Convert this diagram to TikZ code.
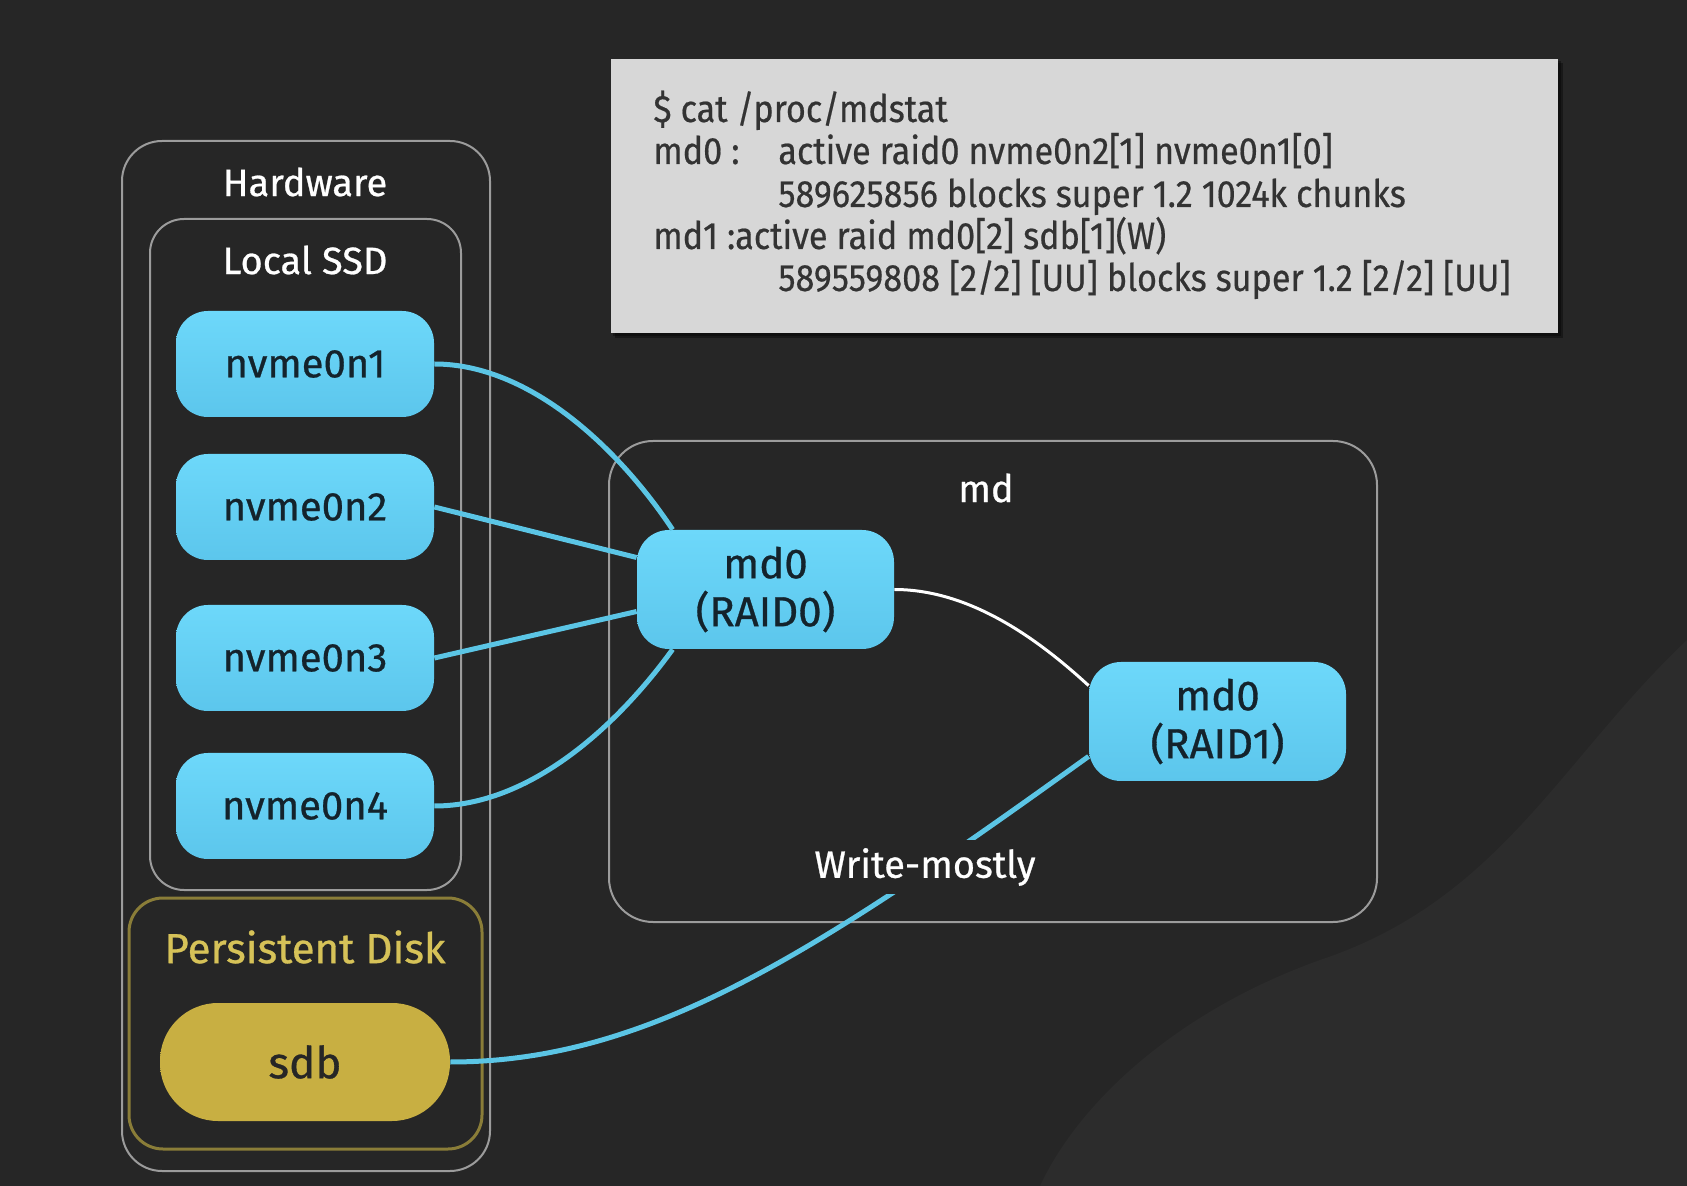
\documentclass[tikz,border=0pt]{standalone}
\usepackage{fontspec}
\setmainfont{Fira Sans}[FakeBold=0.7]
\newfontfamily\termfont{Fira Sans}[FakeStretch=0.9,FakeBold=0.5]
\usetikzlibrary{calc}
\definecolor{bg}{HTML}{262626}
\definecolor{bglight}{HTML}{2C2C2C}
\definecolor{frame}{HTML}{9C9C9C}
\definecolor{cyantop}{HTML}{6DD8FA}
\definecolor{cyanbot}{HTML}{5CC6EC}
\definecolor{cyanline}{HTML}{5BC5E5}
\definecolor{navytext}{HTML}{14232C}
\definecolor{olivefill}{HTML}{C8AF42}
\definecolor{oliveframe}{HTML}{8A7D38}
\definecolor{olivetext}{HTML}{D6C258}
\definecolor{termbg}{HTML}{D7D7D7}
\definecolor{termtext}{HTML}{333333}
\tikzset{
  container/.style={draw=frame, line width=1pt, rounded corners=#1, inner sep=0pt},
  container/.default=20pt,
  disk/.style={top color=cyantop, bottom color=cyanbot, draw=none, rounded corners=16pt,
    minimum width=129pt, minimum height=53pt, text=navytext,
    font=\fontsize{20pt}{24pt}\selectfont},
  raid/.style={disk, minimum width=128.5pt, minimum height=59.5pt, align=center,
    font=\fontsize{21pt}{24pt}\selectfont},
  title/.style={text=white, font=\fontsize{19pt}{22pt}\selectfont},
  link/.style={draw=cyanline, line width=2.5pt},
  wlink/.style={draw=white, line width=1.5pt},
  term/.style={anchor=base west, text=termtext, inner sep=0pt,
    font=\termfont\fontsize{19pt}{22pt}\selectfont},
}
\begin{document}
\begin{tikzpicture}[x=0.5pt,y=-0.5pt]
% background
\fill[bg] (0,0) rectangle (1687,1186);
\fill[bglight] (1687,640) .. controls (1560,760) and (1500,900) .. (1320,960)
  .. controls (1180,1010) and (1080,1100) .. (1040,1186) -- (1687,1186) -- cycle;
\useasboundingbox (0,0) rectangle (1687,1186);

% terminal box
\fill[black,opacity=0.35] (615,63) rectangle (1563,338);
\fill[black,opacity=0.35] (613,61) rectangle (1561,336);
\node (term) [fill=termbg, minimum width=473.5pt, minimum height=137pt, inner sep=0pt] at (1084.5,196) {};
\node[term] (t1) at (653,122) {\$ cat /proc/mdstat};
\node[term] (t2a) at (653,164) {md0 :};
\node[term] (t2b) at (778,164) {active raid0 nvme0n2[1] nvme0n1[0]};
\node[term] (t3) at (778,207) {589625856 blocks super 1.2 1024k chunks};
\node[term] (t4) at (653,249) {md1 :active raid md0[2] sdb[1](W)};
\node[term] (t5) at (778,291) {589559808 [2/2] [UU] blocks super 1.2 [2/2] [UU]};

% containers
\node (hw) [container=20pt, minimum width=184pt, minimum height=515pt] at (306,656) {};
\node (ssd) [container=17pt, minimum width=155.5pt, minimum height=335.5pt] at (305.5,554.5) {};
\node (pd) [container=17pt, draw=oliveframe, line width=1.5pt, minimum width=176.5pt, minimum height=125.5pt] at (305.5,1023.5) {};
\node (md) [container=22pt, minimum width=384pt, minimum height=240.5pt] at (993,681.5) {};

\node[title] (hwl) at (305,182) {Hardware};
\node[title] (ssdl) at (305,260) {Local SSD};
\node[title, text=olivetext, font=\fontsize{21pt}{24pt}\selectfont] (pdl) at (305,947) {Persistent Disk};
\node[title] (mdl) at (986,488) {md};

% disks
\node[disk] (n1) at (305,364) {nvme0n1};
\node[disk] (n2) at (305,507) {nvme0n2};
\node[disk] (n3) at (305,658) {nvme0n3};
\node[disk] (n4) at (305,806) {nvme0n4};
\node[disk, top color=olivefill, bottom color=olivefill, minimum width=145pt, minimum height=59pt,
  rounded corners=29pt, text=black!85, font=\fontsize{22pt}{26pt}\selectfont] (sdb) at (305,1062) {sdb};

\node[raid] (md0) at (765.5,589.5) {md0\\(RAID0)};
\node[raid] (md1) at (1217.5,721.5) {md0\\(RAID1)};

% connectors
\draw[link] (n1.east) .. controls +(96,0) and +(-53,-80) .. ($(md0.north west)+(36,0)$);
\draw[link] (n2.east) -- ($(md0.west)+(0,-32)$);
\draw[link] (n3.east) -- ($(md0.west)+(0,22)$);
\draw[link] (n4.east) .. controls +(96,0) and +(-55,76) .. ($(md0.south west)+(36,0)$);
\draw[wlink] (md0.east) .. controls +(76,0) and +(-50,-46) .. ($(md1.north west)+(0,24)$);
\draw[link] (sdb.east) .. controls +(200,0) and +(-270,194) .. ($(md1.south west)+(0,-25)$);
\node[title, fill=bg, inner sep=4pt] (wm) at (925,867) {Write-mostly};
\end{tikzpicture}
\end{document}
